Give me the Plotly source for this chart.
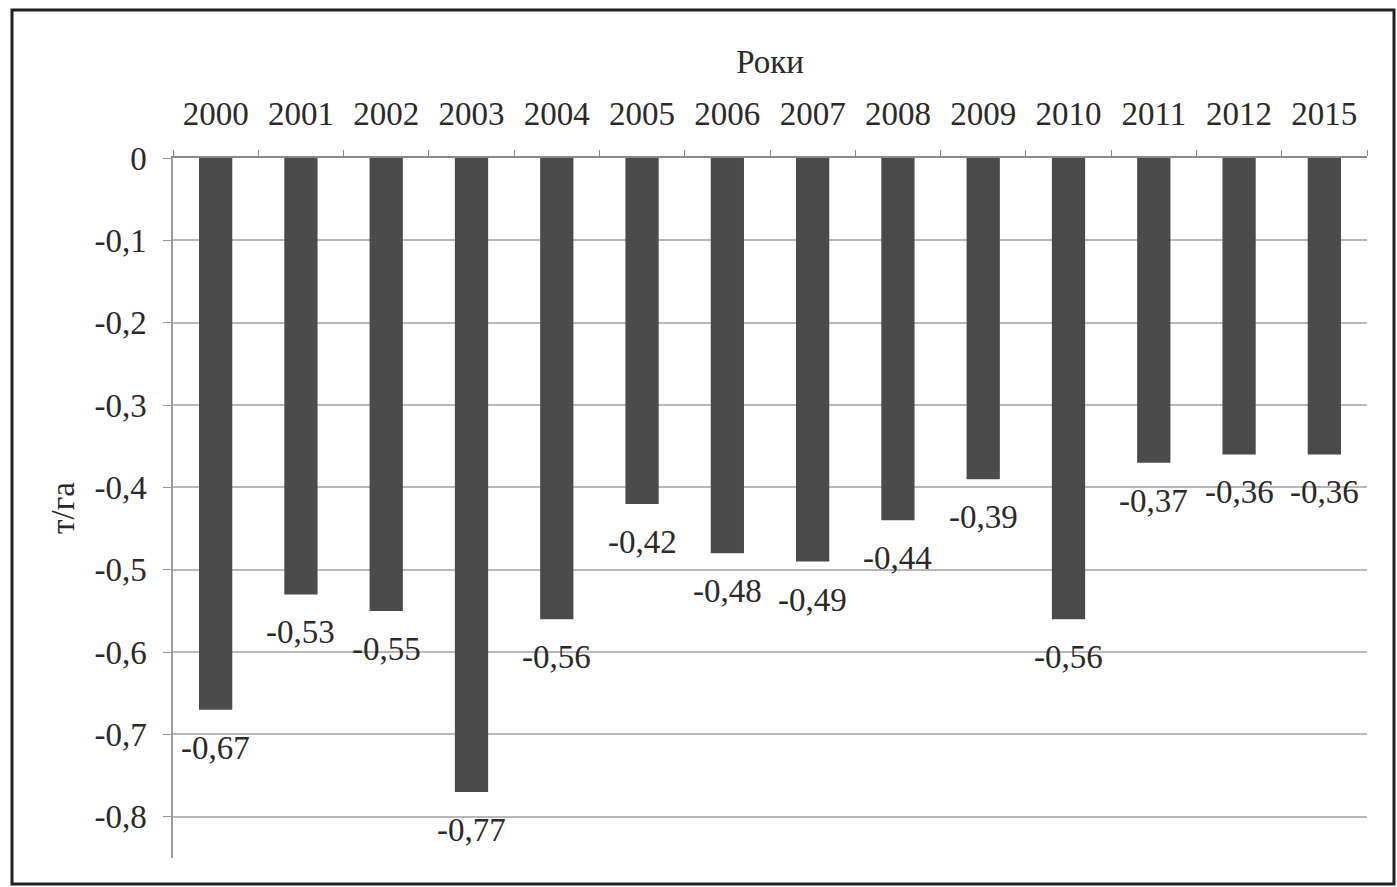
import plotly.graph_objects as go

years = ["2000", "2001", "2002", "2003", "2004", "2005", "2006", "2007",
         "2008", "2009", "2010", "2011", "2012", "2015"]
values = [-0.67, -0.53, -0.55, -0.77, -0.56, -0.42, -0.48, -0.49,
          -0.44, -0.39, -0.56, -0.37, -0.36, -0.36]
y_tickvals = [0, -0.1, -0.2, -0.3, -0.4, -0.5, -0.6, -0.7, -0.8]
y_ticktext = ["0", "-0,1", "-0,2", "-0,3", "-0,4", "-0,5", "-0,6", "-0,7", "-0,8"]
labels = [("%.2f" % v).replace(".", ",") for v in values]

FONT = "Liberation Serif"
FS = 33
W, H = 1397, 887
ml, mr, mt, mb = 173, 30, 158, 29
pw, ph = W - ml - mr, H - mt - mb

fig = go.Figure()
fig.add_trace(go.Bar(
    x=years, y=values,
    marker=dict(color="#4b4b4b", line=dict(width=0)),
    cliponaxis=False, hoverinfo="x+y",
))

# category axis: annotation x given as category index
annotations = [
    dict(x=i, y=v, xref="x", yref="y", text=lab, showarrow=False,
         yanchor="middle", xanchor="center", yshift=-38,
         font=dict(family=FONT, size=FS, color="#2a2a2a"))
    for i, (v, lab) in enumerate(zip(values, labels))
]

def px_x(p):
    return (p - ml) / pw

def px_y(p):
    return (H - mb - p) / ph

fig.update_layout(
    width=W, height=H,
    margin=dict(l=ml, r=mr, t=mt, b=mb),
    paper_bgcolor="white", plot_bgcolor="white",
    bargap=0.61, showlegend=False,
    font=dict(family=FONT, size=FS, color="#2a2a2a"),
    annotations=annotations,
    xaxis=dict(
        type="category", side="top", range=[-0.5, len(years) - 0.5],
        title=dict(text="Роки", font=dict(family=FONT, size=FS), standoff=12),
        showline=True, linecolor="#8a8a8a", linewidth=2,
        ticks="outside", tickson="boundaries", ticklen=6, tickcolor="#8a8a8a",
        showgrid=False, tickfont=dict(family=FONT, size=FS), tickangle=0,
        ticklabelstandoff=18,
    ),
    yaxis=dict(
        range=[-0.85, 0], tickvals=y_tickvals, ticktext=y_ticktext,
        title=dict(text="т/га", font=dict(family=FONT, size=FS), standoff=10),
        showline=True, linecolor="#9a9a9a", linewidth=1.5,
        ticks="outside", ticklen=8, tickcolor="#9a9a9a",
        showgrid=True, gridcolor="#b8b8b8", gridwidth=1.5,
        zeroline=False, tickfont=dict(family=FONT, size=FS),
        ticklabelstandoff=10,
    ),
    shapes=[dict(
        type="rect", xref="paper", yref="paper",
        x0=px_x(12), x1=px_x(1394), y0=px_y(884), y1=px_y(10),
        line=dict(color="#222222", width=3), fillcolor="rgba(0,0,0,0)",
        layer="below",
    )],
)

fig.write_html("out.html", config={"displayModeBar": False},
               post_script="document.body.style.margin='0';document.body.style.overflow='hidden';")
